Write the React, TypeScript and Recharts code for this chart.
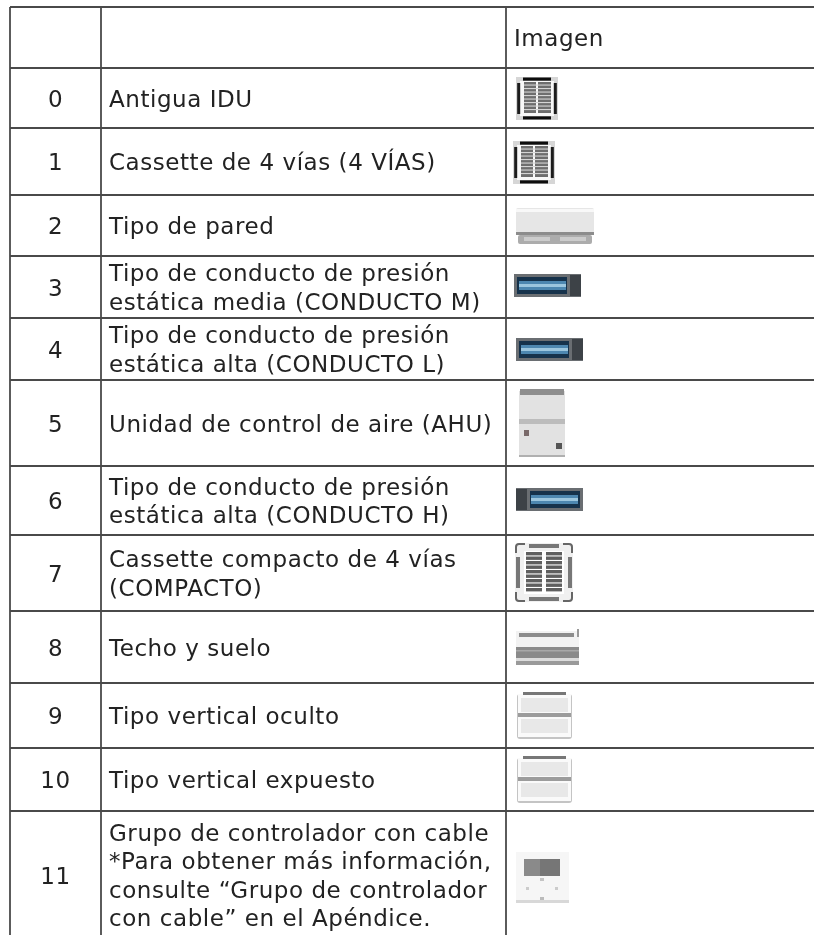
import React from "react";
import { ReferenceLine, Scatter, ScatterChart, XAxis, YAxis } from "recharts";

const rowEdges = [7, 68, 128, 195, 256, 318, 380, 466, 535, 611, 683, 748, 811];
const columnEdges = [10, 101, 506];
const rowCodes = ["0", "1", "2", "3", "4", "5", "6", "7", "8", "9", "10", "11"];
const rowLabels = [
  ["Antigua IDU"],
  ["Cassette de 4 vías (4 VÍAS)"],
  ["Tipo de pared"],
  ["Tipo de conducto de presión", "estática media (CONDUCTO M)"],
  ["Tipo de conducto de presión", "estática alta (CONDUCTO L)"],
  ["Unidad de control de aire (AHU)"],
  ["Tipo de conducto de presión", "estática alta (CONDUCTO H)"],
  ["Cassette compacto de 4 vías", "(COMPACTO)"],
  ["Techo y suelo"],
  ["Tipo vertical oculto"],
  ["Tipo vertical expuesto"],
  [
    "Grupo de controlador con cable",
    "*Para obtener más información,",
    "consulte “Grupo de controlador",
    "con cable” en el Apéndice.",
  ],
];
const rowIcons = ["cassette", "cassette", "wall", "duct", "duct", "ahu", "ductFlip", "compact", "ceiling", "vertical", "vertical", "remote"];
const iconLeft = [516, 513, 515, 514, 516, 519, 516, 515, 515, 517, 517, 516];
const iconTop = [77, 141, 208, 274, 338, 389, 488, 543, 629, 692, 756, 852];

const WIDTH = 814;
const HEIGHT = 935;
const TEXT = "#222";
const FONT = "'DejaVu Sans', Verdana, sans-serif";
const FONT_SIZE = 23;
const TRACKING = 0.55;

const bottomEdge = (i: number) => (i + 2 < rowEdges.length ? rowEdges[i + 2] : HEIGHT + 4);

const codePoints = rowCodes.map((code, i) => ({
  x: (columnEdges[0] + columnEdges[1]) / 2,
  y: (rowEdges[i + 1] + bottomEdge(i)) / 2,
  code,
}));
const labelPoints = rowLabels.map((lines, i) => ({
  x: columnEdges[1] + 8,
  y: (rowEdges[i + 1] + bottomEdge(i)) / 2,
  lines,
}));
const iconPoints = rowIcons.map((kind, i) => ({ x: iconLeft[i], y: iconTop[i], kind }));
const headerPoints = [{ x: columnEdges[2] + 8, y: (rowEdges[0] + rowEdges[1]) / 2, lines: ["Imagen"] }];

const CodeShape = ({ cx, cy, payload }: any) => (
  <text x={cx} y={cy} dy={8.5} textAnchor="middle" fontSize={FONT_SIZE} letterSpacing={TRACKING} fontFamily={FONT} fill={TEXT} filter="url(#textBlur)">
    {payload.code}
  </text>
);

const LabelShape = ({ cx, cy, payload }: any) => {
  const lineHeight = 28.5;
  const start = cy - ((payload.lines.length - 1) * lineHeight) / 2;
  return (
    <text fontSize={FONT_SIZE} letterSpacing={TRACKING} fontFamily={FONT} fill={TEXT} filter="url(#textBlur)">
      {payload.lines.map((line: string, i: number) => (
        <tspan key={i} x={cx} y={start + i * lineHeight + 8.5}>
          {line}
        </tspan>
      ))}
    </text>
  );
};

const cassette = (
  <g>
    <rect x={0} y={0} width={42} height={43} fill="#d6d6d6" />
    <rect x={4} y={4} width={34} height={35} fill="#f8f8f8" />
    <rect x={7} y={0.5} width={28} height={3.2} fill="#111" />
    <rect x={7} y={39.3} width={28} height={3.2} fill="#111" />
    <rect x={1.2} y={6} width={3} height={31} fill="#1a1a1a" />
    <rect x={37.8} y={6} width={3} height={31} fill="#1a1a1a" />
    <rect x={8} y={5} width={12} height={31} fill="#6e6e6e" />
    <rect x={22} y={5} width={13} height={31} fill="#6e6e6e" />
    {[7.5, 11, 14.5, 18, 21.5, 25, 28.5, 32].map((y) => (
      <rect key={y} x={8} y={y} width={27} height={1.1} fill="#d4d4d4" />
    ))}
  </g>
);

const wall = (
  <g>
    <rect x={1} y={0} width={78} height={25} rx={2} fill="#e6e6e6" />
    <rect x={1} y={1} width={78} height={3} fill="#f8f8f8" />
    <rect x={1} y={24} width={78} height={3} fill="#8c8c8c" />
    <rect x={3} y={27} width={74} height={9} rx={2} fill="#acacac" />
    <rect x={9} y={29} width={26} height={4} fill="#cccccc" />
    <rect x={45} y={29} width={26} height={4} fill="#cccccc" />
  </g>
);

const duct = (flip: boolean) => (
  <g transform={flip ? "translate(67,0) scale(-1,1)" : undefined}>
    <rect x={0} y={0} width={67} height={23} fill="#6a6e72" />
    <rect x={3} y={3} width={50} height={17} fill="#16324c" />
    <rect x={5} y={7} width={47} height={9} fill="#4e87b0" />
    <rect x={5} y={10} width={47} height={3} fill="#9cc6de" />
    <rect x={56} y={1} width={11} height={21} fill="#3e4246" />
  </g>
);

const ahu = (
  <g>
    <rect x={0} y={2} width={46} height={66} fill="#e2e2e2" />
    <rect x={1} y={0} width={44} height={6} fill="#8e8e8e" />
    <rect x={0} y={30} width={46} height={5} fill="#bcbcbc" />
    <rect x={0} y={66} width={46} height={2} fill="#b0b0b0" />
    <rect x={5} y={41} width={5} height={6} fill="#7a6a6a" />
    <rect x={37} y={54} width={6} height={6} fill="#555" />
  </g>
);

const compact = (
  <g>
    <rect x={0} y={0} width={58} height={59} rx={5} fill="#f0f0f0" />
    <path d="M1 10 V4 Q1 1 4 1 H10 M48 1 H54 Q57 1 57 4 V10 M57 49 V55 Q57 58 54 58 H48 M10 58 H4 Q1 58 1 55 V49" fill="none" stroke="#666" strokeWidth={2} />
    <rect x={14} y={1} width={30} height={4} fill="#777" />
    <rect x={14} y={54} width={30} height={4} fill="#777" />
    <rect x={1} y={14} width={4} height={31} fill="#777" />
    <rect x={53} y={14} width={4} height={31} fill="#777" />
    <rect x={9} y={8} width={40} height={43} fill="#fff" />
    {[9, 13.5, 18, 22.5, 27, 31.5, 36, 40.5, 45].map((y) => (
      <g key={y}>
        <rect x={11} y={y} width={16} height={3.4} fill="#5e5e5e" />
        <rect x={31} y={y} width={16} height={3.4} fill="#5e5e5e" />
      </g>
    ))}
  </g>
);

const ceiling = (
  <g>
    <rect x={1} y={2} width={63} height={18} fill="#f2f2f2" />
    <rect x={4} y={4} width={55} height={4} fill="#8c8c8c" />
    <rect x={1} y={18} width={63} height={11} fill="#8a8a8a" />
    <rect x={1} y={21} width={63} height={1.5} fill="#a8a8a8" />
    <rect x={1} y={29} width={63} height={3} fill="#dcdcdc" />
    <rect x={1} y={32} width={63} height={4} fill="#9a9a9a" />
    <rect x={62} y={0} width={2} height={8} fill="#999" />
  </g>
);

const vertical = (
  <g>
    <rect x={0} y={2} width={55} height={45} rx={3} fill="#c4c4c4" />
    <rect x={1} y={2} width={53} height={43} fill="#fafafa" />
    <rect x={6} y={0} width={43} height={3} fill="#777" />
    <rect x={4} y={6} width={47} height={14} fill="#e8e8e8" />
    <rect x={1} y={21} width={53} height={4} fill="#9c9c9c" />
    <rect x={4} y={27} width={47} height={14} fill="#e8e8e8" />
  </g>
);

const remote = (
  <g>
    <rect x={0} y={0} width={53} height={51} fill="#f6f6f6" />
    <rect x={0} y={48} width={53} height={3} fill="#d8d8d8" />
    <rect x={8} y={7} width={36} height={17} fill="#8a8a8a" />
    <rect x={24} y={7} width={20} height={17} fill="#767676" />
    <rect x={24} y={26} width={4} height={3} fill="#c4c4c4" />
    <rect x={10} y={35} width={3} height={3} fill="#ccc" />
    <rect x={39} y={35} width={3} height={3} fill="#ccc" />
    <rect x={24} y={45} width={4} height={3} fill="#bbb" />
  </g>
);

const iconArt: Record<string, React.ReactNode> = {
  cassette,
  wall,
  duct: duct(false),
  ductFlip: duct(true),
  ahu,
  compact,
  ceiling,
  vertical,
  remote,
};

const IconShape = ({ cx, cy, payload }: any) => (
  <g transform={`translate(${cx},${cy})`} filter="url(#iconBlur)">
    {iconArt[payload.kind]}
  </g>
);

export default function App() {
  return (
    <div style={{ position: "absolute", left: 0, top: 0, width: WIDTH, height: HEIGHT, overflow: "hidden", background: "#fff" }}>
      <ScatterChart width={WIDTH} height={HEIGHT} margin={{ top: 0, right: 0, bottom: 0, left: 0 }}>
        <defs>
          <filter id="iconBlur" x="-10%" y="-10%" width="120%" height="120%">
            <feGaussianBlur stdDeviation={0.6} />
          </filter>
          <filter id="textBlur" x="-5%" y="-10%" width="110%" height="120%">
            <feGaussianBlur stdDeviation={0.3} />
          </filter>
        </defs>
        <XAxis type="number" dataKey="x" domain={[0, WIDTH]} hide />
        <YAxis type="number" dataKey="y" domain={[0, HEIGHT]} reversed hide />
        {rowEdges.map((y) => (
          <ReferenceLine
            key={`row-${y}`}
            segment={[{ x: columnEdges[0], y }, { x: WIDTH, y }]}
            stroke="#4a4a4a"
            strokeWidth={1.8}
          />
        ))}
        {columnEdges.map((x) => (
          <ReferenceLine
            key={`col-${x}`}
            segment={[{ x, y: rowEdges[0] }, { x, y: HEIGHT }]}
            stroke="#4a4a4a"
            strokeWidth={1.8}
          />
        ))}
        <Scatter data={headerPoints} shape={LabelShape} isAnimationActive={false} />
        <Scatter data={codePoints} shape={CodeShape} isAnimationActive={false} />
        <Scatter data={labelPoints} shape={LabelShape} isAnimationActive={false} />
        <Scatter data={iconPoints} shape={IconShape} isAnimationActive={false} />
      </ScatterChart>
    </div>
  );
}
